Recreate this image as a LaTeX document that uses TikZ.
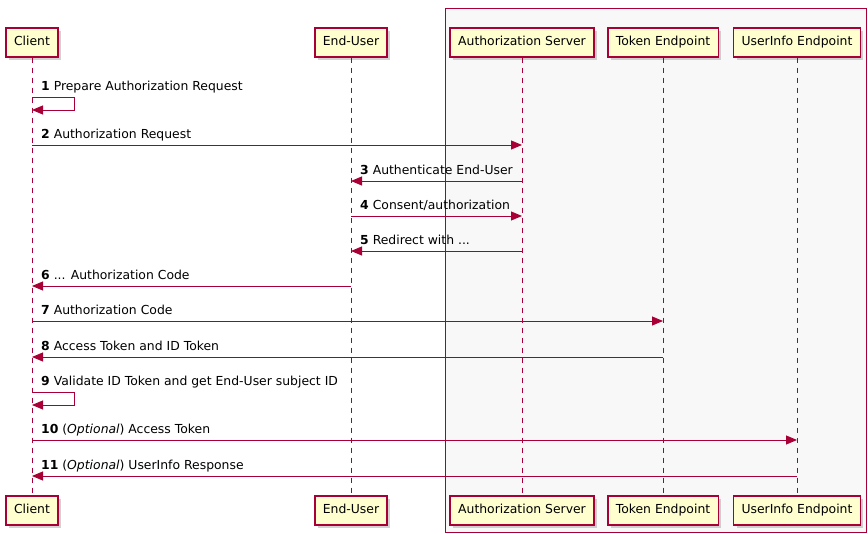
\documentclass[tikz,border=0pt]{standalone}
\usepackage{fontspec}
\setmainfont{DejaVu Sans}
\usetikzlibrary{arrows.meta,shadows}
\definecolor{umlred}{RGB}{168,0,54}
\definecolor{umlyellow}{RGB}{254,254,206}
\definecolor{umlgray}{RGB}{248,248,248}

\begin{document}
\begin{tikzpicture}[x=1pt, y=-1pt,
  actor/.style={draw=umlred, line width=1.4pt, fill=umlyellow, minimum height=29pt, inner xsep=8pt,
    text height=9pt, text depth=3pt,
    font=\fontsize{12.4}{14}\selectfont, drop shadow={fill=black!35, shadow xshift=3pt, shadow yshift=-3pt}},
  life/.style={umlred, line width=0.9pt, dash pattern=on 5pt off 5pt},
  msg/.style={umlred, line width=0.9pt, -{Triangle[length=11pt,width=9pt]}},
  lbl/.style={anchor=base west, inner sep=0pt, font=\fontsize{12.4}{14}\selectfont}]
\useasboundingbox (0,0) rectangle (868,534);

% box around the server side
\draw[umlred, fill=umlgray] (445,8) rectangle (866,532);

% participants, top and bottom, with their lifelines
\foreach \n/\x/\t in {cli/32/Client, eu/351/End-User, as/522/Authorization Server,
                      te/663/Token Endpoint, ui/797/UserInfo Endpoint} {
  \node[actor] (\n T) at (\x,42.5) {\t};
  \node[actor] (\n B) at (\x,510.5) {\t};
  \draw[life] (\n T.south) -- (\n B.north);
}

% messages
\draw[msg] (cliT |- 0,97) -- ++(42,0) -- ++(0,13) -- (cliT |- 0,110);
\node[lbl] (m1) at (41,91) {\textbf{1} Prepare Authorization Request};

\draw[msg] (cliT |- 0,145) -- (asT |- 0,145);
\node[lbl] (m2) at (41,139) {\textbf{2} Authorization Request};

\draw[msg] (asT |- 0,181) -- (euT |- 0,181);
\node[lbl] (m3) at (360,175) {\textbf{3} Authenticate End-User};

\draw[msg] (euT |- 0,216) -- (asT |- 0,216);
\node[lbl] (m4) at (360,210) {\textbf{4} Consent/authorization};

\draw[msg] (asT |- 0,251) -- (euT |- 0,251);
\node[lbl] (m5) at (360,245) {\textbf{5} Redirect with ...};

\draw[msg] (euT |- 0,286) -- (cliT |- 0,286);
\node[lbl] (m6) at (41,280) {\textbf{6} ... Authorization Code};

\draw[msg] (cliT |- 0,321) -- (teT |- 0,321);
\node[lbl] (m7) at (41,315) {\textbf{7} Authorization Code};

\draw[msg] (teT |- 0,357) -- (cliT |- 0,357);
\node[lbl] (m8) at (41,351) {\textbf{8} Access Token and ID Token};

\draw[msg] (cliT |- 0,392) -- ++(42,0) -- ++(0,13) -- (cliT |- 0,405);
\node[lbl] (m9) at (41,386) {\textbf{9} Validate ID Token and get End-User subject ID};

\draw[msg] (cliT |- 0,440) -- (uiT |- 0,440);
\node[lbl] (m10) at (41,434) {\textbf{10} (\textit{Optional}) Access Token};

\draw[msg] (uiT |- 0,476) -- (cliT |- 0,476);
\node[lbl] (m11) at (41,470) {\textbf{11} (\textit{Optional}) UserInfo Response};
\end{tikzpicture}
\end{document}
